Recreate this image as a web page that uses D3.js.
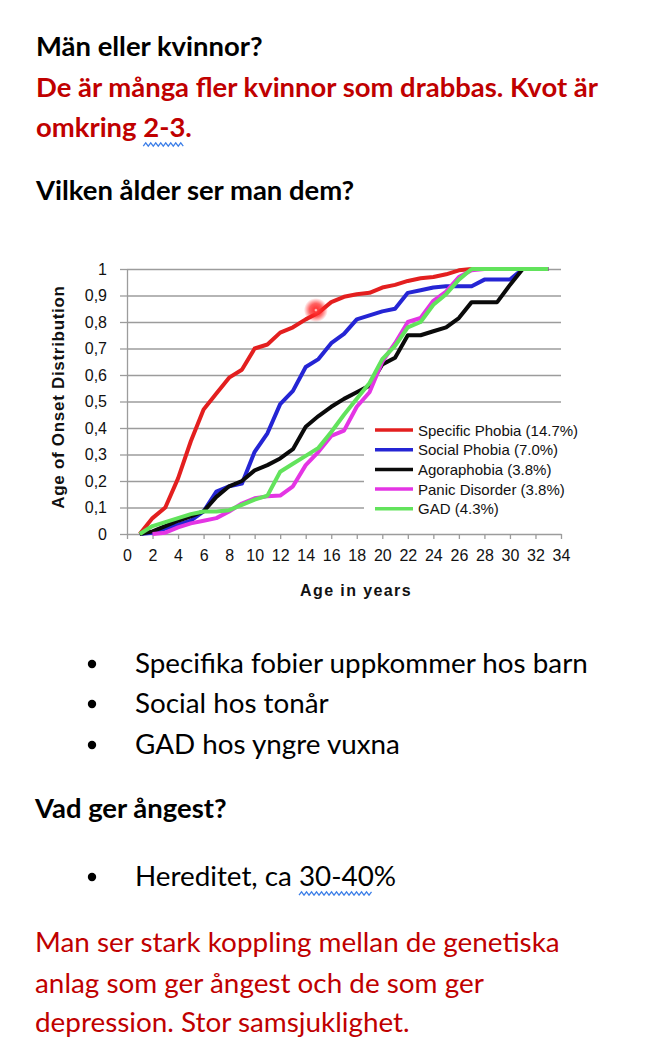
<!DOCTYPE html>
<html>
<head>
<meta charset="utf-8">
<script src="https://cdn.jsdelivr.net/npm/d3@7"></script>
<style>
  body { margin: 0; background: #fff; }
  .doc text { font-family: Lato, "Noto Sans", sans-serif; }
  .chart text { font-family: "Liberation Sans", Arial, sans-serif; fill: #111; }
  .grid line { stroke: #9c9c9c; stroke-width: 1.3; }
  .grid path { display: none; }
  .axis path, .axis line { stroke: #9c9c9c; stroke-width: 1.3; }
</style>
</head>
<body>
<svg id="page" width="660" height="1056"></svg>
<script>
// ages (years) at which the curves were read
var ages = [1, 2, 3, 4, 5, 6, 7, 8, 9, 10, 11, 12, 13, 14, 15, 16, 17,
  18, 19, 20, 21, 22, 23, 24, 25, 26, 27, 28, 29, 30, 31, 32, 33];

var specificPhobia = [0, 0.06, 0.10, 0.21, 0.35, 0.47, 0.53, 0.59, 0.62, 0.70, 0.715,
  0.76, 0.78, 0.81, 0.835, 0.875, 0.895, 0.905, 0.91, 0.93, 0.94, 0.955, 0.965,
  0.97, 0.98, 0.995, 1, 1, 1, 1, 1, 1, 1];
var socialPhobia = [0, 0.005, 0.02, 0.035, 0.05, 0.085, 0.16, 0.18, 0.19, 0.31, 0.38,
  0.49, 0.54, 0.63, 0.66, 0.72, 0.755, 0.81, 0.825, 0.84, 0.85, 0.91, 0.92,
  0.93, 0.935, 0.935, 0.935, 0.96, 0.96, 0.96, 1, 1, 1];
var agoraphobia = [0, 0.01, 0.03, 0.05, 0.067, 0.085, 0.14, 0.18, 0.20, 0.24, 0.26,
  0.285, 0.32, 0.405, 0.445, 0.48, 0.51, 0.535, 0.56, 0.64, 0.665, 0.75, 0.75,
  0.765, 0.78, 0.815, 0.875, 0.875, 0.875, 0.94, 1, 1, 1];
var panicDisorder = [null, 0, 0.005, 0.025, 0.04, 0.05, 0.06, 0.085, 0.115, 0.135, 0.142,
  0.145, 0.18, 0.26, 0.31, 0.37, 0.39, 0.48, 0.535, 0.65, 0.72, 0.80, 0.815,
  0.88, 0.915, 0.97, 0.995, 1, 1, 1, 1, 1, 1];
var gad = [0, 0.03, 0.045, 0.06, 0.075, 0.085, 0.085, 0.09, 0.11, 0.13, 0.145,
  0.235, 0.265, 0.295, 0.325, 0.385, 0.45, 0.51, 0.57, 0.66, 0.71, 0.78, 0.80,
  0.865, 0.905, 0.96, 1, 1, 1, 1, 1, 1, 1];

var seriesNames = ["Specific Phobia (14.7%)", "Social Phobia (7.0%)", "Agoraphobia (3.8%)",
  "Panic Disorder (3.8%)", "GAD (4.3%)"];
var seriesColors = ["#e31f1f", "#2525d4", "#0a0a0a", "#e435e4", "#62e35c"];
var seriesValues = [specificPhobia, socialPhobia, agoraphobia, panicDisorder, gad];

var xTicks = [0, 2, 4, 6, 8, 10, 12, 14, 16, 18, 20, 22, 24, 26, 28, 30, 32, 34];
var yTicks = [0, 0.1, 0.2, 0.3, 0.4, 0.5, 0.6, 0.7, 0.8, 0.9, 1];
var yTickLabels = ["0", "0,1", "0,2", "0,3", "0,4", "0,5", "0,6", "0,7", "0,8", "0,9", "1"];

var svg = d3.select("#page");

// ---------- document text ----------
var doc = svg.append("g").attr("class", "doc");

function addLine(txt, x, y, color, weight) {
  return doc.append("text")
    .attr("x", x)
    .attr("y", y)
    .attr("fill", color)
    .attr("font-weight", weight)
    .text(txt);
}

var red = "#c00000";
var heads = [
  addLine("Män eller kvinnor?", 36, 56, "#000", 700),
  addLine("De är många fler kvinnor som drabbas. Kvot är", 36, 97, red, 700),
  addLine("omkring 2-3.", 36, 137, red, 700),
  addLine("Vilken ålder ser man dem?", 36, 200, "#000", 700),
  addLine("Vad ger ångest?", 35, 818, "#000", 700)
];
var body = [
  addLine("Specifika fobier uppkommer hos barn", 135, 673, "#000", 400),
  addLine("Social hos tonår", 135, 713, "#000", 400),
  addLine("GAD hos yngre vuxna", 135, 754, "#000", 400),
  addLine("Hereditet, ca 30-40%", 135, 886, "#000", 400)
];
var para = [
  addLine("Man ser stark koppling mellan de genetiska", 35, 952, red, 400),
  addLine("anlag som ger ångest och de som ger", 35, 993, red, 400),
  addLine("depression. Stor samsjuklighet.", 35, 1032, red, 400)
];

function fitGroup(list, ref, target) {
  ref.style("font-size", "100px");
  var size = 100 * target / ref.node().getComputedTextLength();
  list.forEach(function(t) { t.style("font-size", size + "px"); });
}
fitGroup(heads, heads[1], 562);
fitGroup(body, body[0], 453);
fitGroup(para, para[0], 525);

// bullets
[673, 713, 754, 886].forEach(function(y) {
  doc.append("circle").attr("cx", 92).attr("cy", y - 9).attr("r", 4.2).attr("fill", "#000");
});

// spell-check squiggles
function squiggle(t, start, count) {
  var node = t.node();
  var x0 = +t.attr("x") + node.getSubStringLength(0, start);
  var x1 = x0 + node.getSubStringLength(start, count);
  var y = +t.attr("y") + 7.5;
  var pts = [];
  for (var x = x0, i = 0; x <= x1; x += 2.5, i++) pts.push([x, y + (i % 2 ? -1.6 : 1.6)]);
  doc.append("path").attr("d", d3.line()(pts))
    .attr("fill", "none").attr("stroke", "#3d7fe8").attr("stroke-width", 1.3);
}
squiggle(heads[2], 8, 3);
squiggle(body[3], 14, 5);

// ---------- chart ----------
var chart = svg.append("g").attr("class", "chart");

var xScale = d3.scaleLinear().domain([0, 34]).range([127, 561]);
var yScale = d3.scaleLinear().domain([0, 1]).range([534, 269]);

chart.append("g")
  .attr("class", "grid")
  .attr("transform", "translate(127,0)")
  .call(d3.axisLeft(yScale).tickValues(yTicks.slice(1)).tickSize(-(561 - 127)).tickFormat(""));

var leftAxis = chart.append("g")
  .attr("class", "axis")
  .attr("transform", "translate(127,0)")
  .call(d3.axisLeft(yScale).tickValues(yTicks).tickSize(7).tickSizeOuter(0).tickPadding(13)
    .tickFormat(function(d, i) { return yTickLabels[i]; }));
leftAxis.selectAll("text").attr("font-size", 16).attr("font-family", null);

var bottomAxis = chart.append("g")
  .attr("class", "axis")
  .attr("transform", "translate(0,534)")
  .call(d3.axisBottom(xScale).tickValues(xTicks).tickSize(5).tickSizeOuter(0).tickPadding(11)
    .tickFormat(d3.format("d")));
bottomAxis.selectAll("text").attr("font-size", 16).attr("font-family", null);

chart.append("text")
  .attr("x", 356)
  .attr("y", 596)
  .attr("text-anchor", "middle")
  .attr("font-weight", "bold")
  .attr("font-size", 16)
  .attr("letter-spacing", 1.4)
  .text("Age in years");

chart.append("text")
  .attr("transform", "translate(64,397) rotate(-90)")
  .attr("text-anchor", "middle")
  .attr("font-weight", "bold")
  .attr("font-size", 17)
  .attr("letter-spacing", 0.7)
  .text("Age of Onset Distribution");

// legend backdrop hides the grid
chart.append("rect")
  .attr("x", 364).attr("y", 414).attr("width", 230).attr("height", 106)
  .attr("fill", "#fff");

var line = d3.line()
  .defined(function(d) { return d[1] != null; })
  .x(function(d) { return xScale(d[0]); })
  .y(function(d) { return yScale(d[1]); });

seriesValues.forEach(function(vals, i) {
  chart.append("path")
    .datum(ages.map(function(a, j) { return [a, vals[j]]; }))
    .attr("d", line)
    .attr("fill", "none")
    .attr("stroke", seriesColors[i])
    .attr("stroke-width", 4)
    .attr("stroke-linejoin", "round");
});

var legend = chart.append("g").attr("transform", "translate(375,430)");
seriesNames.forEach(function(name, i) {
  var row = legend.append("g").attr("transform", "translate(0," + (i * 19.7) + ")");
  row.append("line").attr("x1", 0).attr("x2", 38)
    .attr("stroke", seriesColors[i]).attr("stroke-width", 3.5);
  row.append("text").attr("x", 43).attr("y", 5.5).attr("font-size", 15).text(name);
});

// laser pointer spot on the picture
var defs = svg.append("defs");
var glow = defs.append("radialGradient").attr("id", "glow");
glow.append("stop").attr("offset", "0%").attr("stop-color", "#fff");
glow.append("stop").attr("offset", "15%").attr("stop-color", "#ff3a3a");
glow.append("stop").attr("offset", "55%").attr("stop-color", "#ff2020").attr("stop-opacity", 0.7);
glow.append("stop").attr("offset", "100%").attr("stop-color", "#ff2020").attr("stop-opacity", 0);
chart.append("circle")
  .attr("cx", xScale(14.8)).attr("cy", yScale(0.845)).attr("r", 12)
  .attr("fill", "url(#glow)");
</script>
</body>
</html>
